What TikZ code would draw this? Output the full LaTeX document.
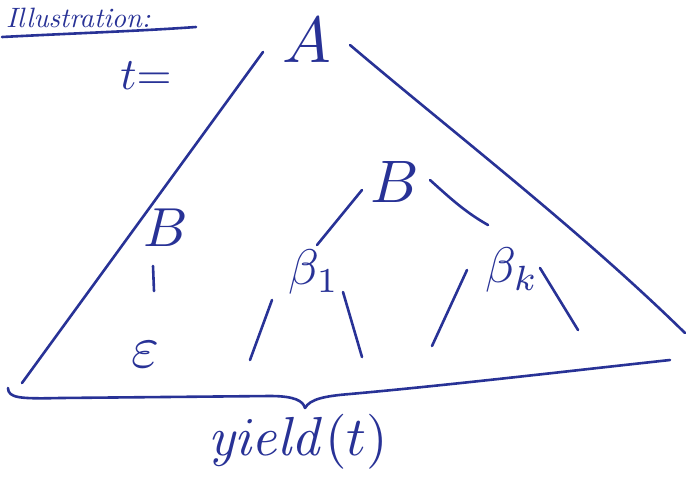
\documentclass[tikz,border=0pt]{standalone}
\usepackage{amsmath}
\usepackage{graphicx}
\definecolor{ink}{RGB}{40,50,150}
\begin{document}
\begin{tikzpicture}[x=1pt,y=-1pt,
  stroke/.style={draw=ink,line width=2.6pt,line cap=round,line join=round},
  lbl/.style={text=ink,inner sep=0pt}]
\useasboundingbox (0,0) rectangle (688,493);
% title
\node[lbl,anchor=base west] (title) at (6,27) {\scalebox{2.8}{\itshape Illustration:}};
\coordinate (ul1) at (2,37);
\coordinate (ul2) at (196,27);
\draw[stroke] (ul1) .. controls (80,33) and (140,31) .. (ul2);
% labels
\node[lbl] (t) at (146,76) {\scalebox{4.5}{$t{=}$}};
\node[lbl] (A) at (307,40) {\scalebox{6.5}{$A$}};
\node[lbl] (B) at (395,182) {\scalebox{6}{$B$}};
\node[lbl] (Bl) at (166,228) {\scalebox{5.5}{$B$}};
\node[lbl] (eps) at (145,355) {\scalebox{6}{$\varepsilon$}};
\node[lbl] (b1) at (314,272) {\scalebox{5}{$\beta_1$}};
\node[lbl] (bk) at (512,270) {\scalebox{5}{$\beta_k$}};
\node[lbl] (yield) at (298,442) {\scalebox{5.5}{$\mathit{yield}(t)$}};
% big triangle
\coordinate (Al) at (263,52);
\coordinate (Ar) at (350,45);
\coordinate (Lend) at (22,383);
\coordinate (Rend) at (685,333);
\draw[stroke] (Al) -- (Lend);
\draw[stroke] (Ar) .. controls (450,130) and (580,230) .. (Rend);
% brace
\coordinate (bl) at (8,388);
\coordinate (tip) at (305,408);
\coordinate (br) at (670,360);
\draw[stroke] (bl) .. controls (8,398) and (20,399) .. (60,398)
  -- (270,396) .. controls (295,396) and (303,401) .. (tip);
\draw[stroke] (tip) .. controls (310,399) and (325,396) .. (350,394)
  .. controls (450,385) and (560,372) .. (br);
% B subtree
\coordinate (Bl1) at (362,190); \coordinate (Bl2) at (317,245);
\coordinate (Br1) at (430,180); \coordinate (Br2) at (488,225);
\draw[stroke] (Bl1) -- (Bl2);
\draw[stroke] (Br1) .. controls (450,198) and (465,212) .. (Br2);
% beta1
\coordinate (b1l1) at (272,300); \coordinate (b1l2) at (250,360);
\coordinate (b1r1) at (343,292); \coordinate (b1r2) at (362,357);
\draw[stroke] (b1l1) -- (b1l2);
\draw[stroke] (b1r1) -- (b1r2);
% betak
\coordinate (bkl1) at (467,270); \coordinate (bkl2) at (432,346);
\coordinate (bkr1) at (540,268); \coordinate (bkr2) at (578,330);
\draw[stroke] (bkl1) -- (bkl2);
\draw[stroke] (bkr1) -- (bkr2);
% B -> epsilon
\coordinate (e1) at (153,266); \coordinate (e2) at (154,291);
\draw[stroke] (e1) -- (e2);
\end{tikzpicture}
\end{document}
